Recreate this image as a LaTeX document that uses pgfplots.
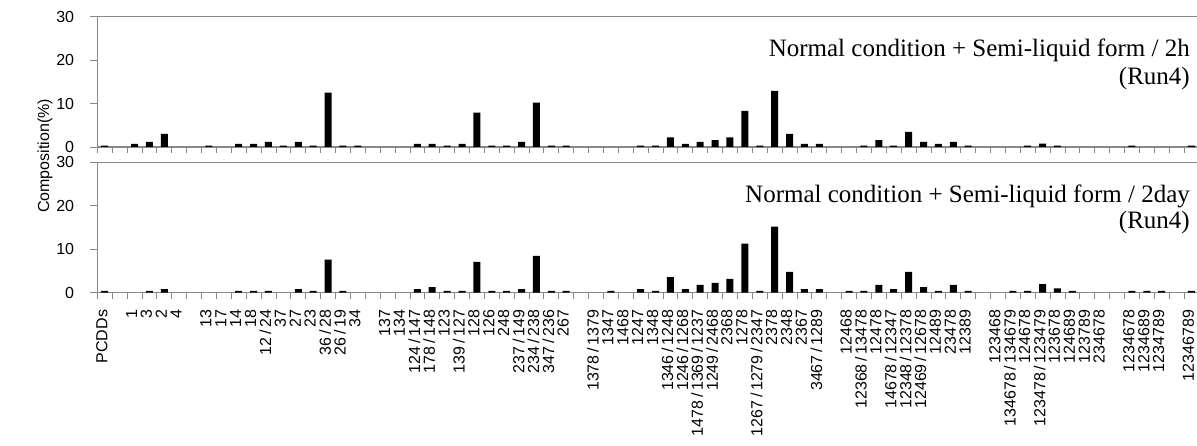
\documentclass[border=0pt]{standalone}
\usepackage{pgfplots}
\pgfplotsset{compat=1.18}
\usepackage{fontspec}
\setmainfont{Liberation Serif}
\setsansfont{Liberation Sans}
\definecolor{axgray}{RGB}{136,136,136}

\pgfplotsset{
  panel/.style={
    scale only axis,
    width=1101.7pt, height=130.3pt,
    anchor=south west,
    xmin=-0.5, xmax=73.5,
    ymin=0, ymax=30,
    ytick={0,10,20,30},
    xtick={0,...,73},
    minor xtick={-0.5,0.5,...,73.5},
    axis x line*=bottom,
    axis y line*=left,
    axis line style={axgray, line width=1.5pt, -},
    tick align=outside,
    major tick length=7pt,
    minor tick length=6pt,
    major x tick style={draw=none},
    every tick/.style={axgray, line width=0.8pt},
    /pgf/number format/assume math mode=true,
    yticklabel style={font=\sffamily\fontsize{16}{16}\selectfont, inner sep=0pt, xshift=-16pt},
    ybar, bar width=7pt,
    extra description/.code={
      \draw[axgray, line width=1.5pt] (rel axis cs:0,1) -- (rel axis cs:1,1);
    },
  }
}

\begin{document}
\begin{tikzpicture}
  % upper panel: 2h
  \begin{axis}[panel, at={(97.3pt,299pt)}, xticklabels={}]
    \addplot[fill=black, draw=none] coordinates {
      (0,0.3) (2,0.7) (3,1.2) (4,3.0) (7,0.3) (9,0.7) (10,0.7) (11,1.2)
      (12,0.3) (13,1.2) (14,0.3) (15,12.5) (16,0.3) (17,0.3)
      (21,0.7) (22,0.7) (23,0.3) (24,0.7) (25,7.9) (26,0.3) (27,0.3)
      (28,1.2) (29,10.2) (30,0.3) (31,0.3)
      (36,0.3) (37,0.3) (38,2.2) (39,0.7) (40,1.2) (41,1.6) (42,2.2)
      (43,8.3) (44,0.3) (45,12.9) (46,3.0) (47,0.7) (48,0.7)
      (51,0.3) (52,1.6) (53,0.3) (54,3.5) (55,1.2) (56,0.7) (57,1.2) (58,0.3)
      (62,0.3) (63,0.8) (64,0.3) (69,0.3) (73,0.3)
    };
  \end{axis}

  % lower panel: 2day
  \begin{axis}[panel, at={(97.3pt,153.3pt)},
      xticklabels={PCDDs,{},1,3,2,4,{},13,17,14,18,{12\,/\,24},37,27,23,
        {36\,/\,28},{26\,/\,19},34,{},137,134,{124\,/\,147},{178\,/\,148},123,
        {139\,/\,127},128,126,248,{237\,/\,149},{234\,/\,238},{347\,/\,236},267,{},
        {1378\,/\,1379},1347,1468,1247,1348,{1346\,/\,1248},{1246\,/\,1268},
        {1478\,/\,1369\,/\,1237},{1249\,/\,2468},2368,1278,{1267\,/\,1279\,/\,2347},
        2378,2348,2367,{3467\,/\,1289},{},12468,{12368\,/\,13478},12478,
        {14678\,/\,12347},{12348\,/\,12378},{12469\,/\,12678},12489,23478,12389,{},
        123468,{134678\,/\,134679},124678,{123478\,/\,123479},123678,124689,
        123789,234678,{},1234678,1234689,1234789,{},12346789},
      xticklabel style={rotate=90, anchor=east, inner sep=0pt, xshift=-10pt, yshift=3pt,
        font=\sffamily\fontsize{16}{16}\selectfont},
    ]
    \addplot[fill=black, draw=none] coordinates {
      (0,0.4) (3,0.4) (4,0.85) (9,0.4) (10,0.4) (11,0.4) (13,0.85) (14,0.4)
      (15,7.6) (16,0.4)
      (21,0.85) (22,1.3) (23,0.4) (24,0.4) (25,7.1) (26,0.4) (27,0.4)
      (28,0.85) (29,8.5) (30,0.4) (31,0.4)
      (34,0.4) (36,0.85) (37,0.4) (38,3.6) (39,0.85) (40,1.8) (41,2.25)
      (42,3.2) (43,11.3) (44,0.4) (45,15.2) (46,4.8) (47,0.85) (48,0.85)
      (50,0.4) (51,0.4) (52,1.8) (53,0.85) (54,4.8) (55,1.3) (56,0.4)
      (57,1.8) (58,0.4)
      (61,0.4) (62,0.4) (63,2.0) (64,1.0) (65,0.4) (69,0.4) (70,0.4)
      (71,0.4) (73,0.4)
    };
  \end{axis}

  \node[rotate=90, font=\sffamily\fontsize{16}{16}\selectfont] at (45pt,290pt) {Composition(\%)};

  \node[anchor=east, inner sep=0pt, font=\fontsize{25}{25}\selectfont] at (1190pt,396pt)
    {Normal condition + Semi-liquid form / 2h};
  \node[anchor=east, inner sep=0pt, font=\fontsize{25}{25}\selectfont] at (1190pt,368pt) {(Run4)};
  \node[anchor=east, inner sep=0pt, font=\fontsize{25}{25}\selectfont] at (1190pt,250pt)
    {Normal condition + Semi-liquid form / 2day};
  \node[anchor=east, inner sep=0pt, font=\fontsize{25}{25}\selectfont] at (1190pt,224pt) {(Run4)};

  \pgfresetboundingbox
  \useasboundingbox (0pt,0pt) rectangle (1197pt,446pt);
\end{tikzpicture}
\end{document}
